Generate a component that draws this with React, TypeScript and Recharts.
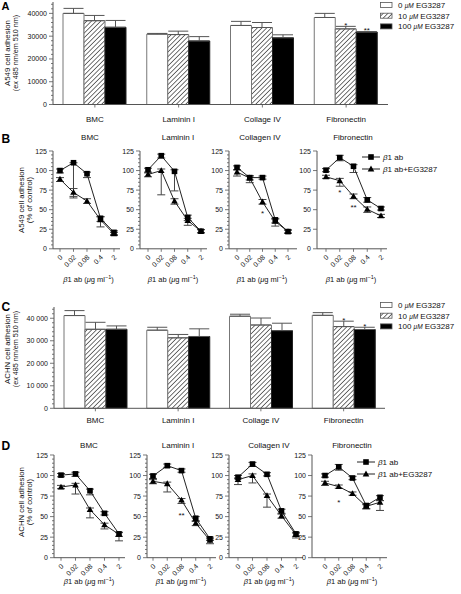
import React from 'react';
import { BarChart, Bar, XAxis, YAxis, ErrorBar, LabelList, Legend, LineChart, Line } from 'recharts';

const FONT = '"Liberation Sans", Arial, Helvetica, sans-serif';
const AX = '#555';
const TXT = '#111';

// ---------------- Panels A / C (bar charts) ----------------
const substratesAC = ['BMC', 'Laminin I', 'Collage IV', 'Fibronectin'];
const treatmentNames = ['0 μM EG3287', '10 μM EG3287', '100 μM EG3287'];

const a549_0 = [40000, 30900, 34700, 38200];
const a549_0_err = [2200, 300, 1800, 1800];
const a549_10 = [36800, 30700, 33800, 33200];
const a549_10_err = [2300, 1500, 2200, 1100];
const a549_100 = [33900, 27900, 29300, 31800];
const a549_100_err = [3000, 1900, 1300, 200];
const a549_10_sig = ['', '', '', '*'];
const a549_100_sig = ['', '', '', '**'];

const achn_0 = [41200, 34700, 40900, 41300];
const achn_0_err = [2200, 1300, 900, 1200];
const achn_10 = [35100, 31300, 37000, 36300];
const achn_10_err = [3100, 1500, 3100, 2400];
const achn_100 = [35100, 31900, 34500, 35000];
const achn_100_err = [1500, 3400, 3300, 1000];
const achn_10_sig = ['', '', '', '*'];
const achn_100_sig = ['', '', '', '*'];

const barTicks = [0, 2000, 4000, 6000, 8000, 10000, 12000, 14000, 16000, 18000, 20000, 22000, 24000, 26000, 28000, 30000, 32000, 34000, 36000, 38000, 40000, 42000, 44000];

// ---------------- Panels B / D (line charts) ----------------
const doses = ['0', '0.02', '0.08', '0.4', '2'];
const lineSeriesNames = ['β1 ab', 'β1 ab+EG3287'];
const lineTicksMinor = [0, 5, 10, 15, 20, 25, 30, 35, 40, 45, 50, 55, 60, 65, 70, 75, 80, 85, 90, 95, 100, 105, 110, 115, 120, 125];
const lineTicksMajor = [0, 25, 50, 75, 100, 125];

// B (A549)
const bBmcAb = [100, 110, 96, 39, 21];
const bBmcAbLo = [3, 45, 5, 4, 3];
const bBmcAbHi = [2, 0, 2, 2, 2];
const bBmcEg = [89, 72, 61, 37, 19];
const bBmcEgLo = [3, 5, 3, 9, 2];
const bBmcEgHi = [2, 5, 3, 4, 2];
const bBmcSig = ['', '', '', '', ''];

const bLamAb = [101, 119, 99, 40, 22.5];
const bLamAbLo = [3, 3, 25, 4, 2];
const bLamAbHi = [2, 2, 2, 3, 2];
const bLamEg = [95, 100, 61, 36, 22.5];
const bLamEgLo = [3, 31, 4, 6, 2];
const bLamEgHi = [2, 2, 3, 3, 2];
const bLamSig = ['', '', '', '', ''];

const bColAb = [104, 91, 91, 37, 22];
const bColAbLo = [3, 3, 2, 4, 2];
const bColAbHi = [2, 2, 2, 2, 2];
const bColEg = [98, 90.5, 60, 35, 22];
const bColEgLo = [5, 6, 3, 6, 2];
const bColEgHi = [3, 3, 3, 3, 2];
const bColSig = ['', '', '*', '', ''];

const bFibAb = [100.5, 116.5, 105.5, 62.5, 51.5];
const bFibAbLo = [2, 4, 8, 3, 2];
const bFibAbHi = [2, 3, 2, 3, 2];
const bFibEg = [92, 87, 67, 50.5, 42];
const bFibEgLo = [2, 7, 3, 4, 2];
const bFibEgHi = [2, 3, 3, 3, 2];
const bFibSig = ['', '*', '**', '', ''];

// D (ACHN)
const dBmcAb = [100.5, 102, 81.5, 54, 29];
const dBmcAbLo = [2, 3, 5, 2, 3];
const dBmcAbHi = [2, 2, 2, 2, 2];
const dBmcEg = [86, 88.5, 58.5, 40, 28.5];
const dBmcEgLo = [2, 11, 10, 5, 8];
const dBmcEgHi = [2, 2, 2, 2, 2];
const dBmcSig = ['', '', '', '', ''];

const dLamAb = [99.5, 112, 106, 48, 23];
const dLamAbLo = [3, 2, 2, 3, 2];
const dLamAbHi = [2, 2, 2, 2, 2];
const dLamEg = [93, 90, 70, 42, 21];
const dLamEgLo = [3, 10, 4, 3, 4];
const dLamEgHi = [2, 2, 2, 2, 2];
const dLamSig = ['', '', '**', '', ''];

const dColAb = [98, 114, 101.5, 57, 29];
const dColAbLo = [2, 3, 2, 3, 3];
const dColAbHi = [2, 2, 2, 2, 2];
const dColEg = [95, 100, 75.5, 51, 28];
const dColEgLo = [6, 9, 14, 3, 4];
const dColEgHi = [2, 2, 2, 2, 2];
const dColSig = ['', '', '', '', ''];

const dFibAb = [100, 110.5, 97, 63.5, 73.5];
const dFibAbLo = [2, 4, 2, 4, 4];
const dFibAbHi = [2, 3, 2, 2, 2];
const dFibEg = [91, 86.5, 78, 62.5, 67.5];
const dFibEgLo = [3, 2, 2, 3, 10];
const dFibEgHi = [2, 2, 2, 2, 2];
const dFibSig = ['', '*', '', '', ''];

// ---------------- helpers ----------------
const isMajorOf = (v: number, step: number) => Math.abs(v / step - Math.round(v / step)) < 1e-6;

const makeYTick = (step: number, fmt: (v: number) => string, fs: number) => (props: any) => {
  const { x, y, payload } = props;
  const v = Number(payload.value);
  const major = isMajorOf(v, step);
  return (
    <g>
      <line x1={x - (major ? 4 : 2)} x2={x} y1={y} y2={y} stroke={AX} strokeWidth={0.8} />
      {major && (
        <text x={x - 6} y={y + fs * 0.36} textAnchor="end" fontSize={fs} fill={TXT} fontFamily={FONT}>
          {fmt(v)}
        </text>
      )}
    </g>
  );
};

const makeBarXTick = (dy: number) => (props: any) => {
  const { x, y, payload } = props;
  return (
    <g>
      <line x1={x} x2={x} y1={y} y2={y + 3} stroke={AX} strokeWidth={0.8} />
      <text x={x} y={y + dy} textAnchor="middle" fontSize={8} fill={TXT} fontFamily={FONT}>
        {payload.value}
      </text>
    </g>
  );
};

const lineXTick = (props: any) => {
  const { x, y, payload } = props;
  const tx = x + 3;
  const ty = y + 9;
  return (
    <g>
      <line x1={x} x2={x} y1={y} y2={y + 3} stroke={AX} strokeWidth={0.8} />
      <text x={tx} y={ty} textAnchor="end" fontSize={7} fill={TXT} fontFamily={FONT} transform={`rotate(-45 ${tx} ${ty})`}>
        {payload.value}
      </text>
    </g>
  );
};

const Hatch = ({ id }: { id: string }) => (
  <pattern id={id} width={3.3} height={3.3} patternUnits="userSpaceOnUse" patternTransform="rotate(45)">
    <rect width={3.3} height={3.3} fill="#fff" />
    <line x1={0} y1={0} x2={0} y2={3.3} stroke="#000" strokeWidth={1.1} />
  </pattern>
);

const starBarLabel = (errs: number[], ppu: number) => (p: any) => {
  const vb = p.viewBox || p;
  const x = Number(vb.x ?? p.x);
  const y = Number(vb.y ?? p.y);
  const w = Number(vb.width ?? p.width ?? 0);
  const idx = Number(p.index ?? 0);
  if (!p.value) return null;
  const cap = y - (errs[idx] || 0) * ppu;
  return (
    <text x={x + w / 2} y={cap + 1.5} textAnchor="middle" fontSize={8} fill={TXT} fontFamily={FONT}>
      {p.value}
    </text>
  );
};

const starLineLabel = (dy: number) => (p: any) => {
  const vb = p.viewBox || p;
  const x = Number(vb.x ?? p.x);
  const y = Number(vb.y ?? p.y);
  if (!p.value) return null;
  return (
    <text x={x} y={y + dy} textAnchor="middle" fontSize={8} fill={TXT} fontFamily={FONT}>
      {p.value}
    </text>
  );
};

const BarLegendBox = ({ pid }: { pid: string }) => (
  <svg width={80} height={32} style={{ display: 'block', overflow: 'visible' }}>
    <defs>
      <Hatch id={pid} />
    </defs>
    {treatmentNames.map((nm, i) => {
      const y = i * 10.7;
      const fill = i === 0 ? '#fff' : i === 1 ? `url(#${pid})` : '#000';
      const parts = nm.split('μM');
      return (
        <g key={nm}>
          <rect x={0.5} y={y + 0.5} width={11.5} height={5} fill={fill} stroke="#555" strokeWidth={0.8} />
          <text x={18} y={y + 6} fontSize={8} fontFamily={FONT} fill={TXT}>
            {parts[0]}
            <tspan fontStyle="italic" fontSize={6.5}>μM</tspan>
            {parts[1]}
          </text>
        </g>
      );
    })}
  </svg>
);

const LineLegendBox = () => (
  <svg width={90} height={24} style={{ display: 'block', overflow: 'visible' }}>
    {lineSeriesNames.map((nm, i) => {
      const y = 4 + i * 12;
      return (
        <g key={nm}>
          <line x1={0} x2={18} y1={y} y2={y} stroke="#222" strokeWidth={1} />
          {i === 0 ? (
            <rect x={9 - 2.8} y={y - 2.8} width={5.6} height={5.6} fill="#000" />
          ) : (
            <polygon points={`9,${y - 3.4} ${12.3},${y + 2.4} ${5.7},${y + 2.4}`} fill="#000" />
          )}
          <text x={21} y={y + 2.9} fontSize={8} fontFamily={FONT} fill={TXT}>
            <tspan fontStyle="italic">{nm.slice(0, 1)}</tspan>
            {nm.slice(1)}
          </text>
        </g>
      );
    })}
  </svg>
);

const SquareDot = (p: any) => {
  const { cx, cy } = p;
  if (cx == null || cy == null) return <g />;
  return <rect x={cx - 2.8} y={cy - 2.8} width={5.6} height={5.6} fill="#000" />;
};
const TriDot = (p: any) => {
  const { cx, cy } = p;
  if (cx == null || cy == null) return <g />;
  return <polygon points={`${cx},${cy - 3.4} ${cx + 3.3},${cy + 2.4} ${cx - 3.3},${cy + 2.4}`} fill="#000" />;
};

// ---------------- Bar panel ----------------
type BP = {
  top: number; height: number; axisX: number; right: number; plotTop: number; plotBottom: number;
  v0: number[]; e0: number[]; v10: number[]; e10: number[]; v100: number[]; e100: number[];
  s10: string[]; s100: string[]; fmt: (v: number) => string; labelDy: number; pid: string; legendTop: number;
};

function BarPanel(p: BP) {
  const data = substratesAC.map((name, i) => ({
    name,
    v0: p.v0[i], e0: [0, p.e0[i]],
    v10: p.v10[i], e10: [0, p.e10[i]],
    v100: p.v100[i], e100: [0, p.e100[i]],
    s10: p.s10[i], s100: p.s100[i],
  }));
  const W = 461;
  const mt = p.plotTop - p.top;
  const xh = p.top + p.height - p.plotBottom;
  const ppu = (p.plotBottom - p.plotTop) / 45000;
  return (
    <div style={{ position: 'absolute', left: 0, top: p.top, width: W, height: p.height }}>
      <BarChart width={W} height={p.height} data={data} margin={{ top: mt, left: 0, right: W - p.right, bottom: 0 }} barGap={0} barSize={21}>
        <defs>
          <Hatch id={p.pid} />
        </defs>
        <XAxis dataKey="name" height={xh} stroke={AX} tickLine={false} tickSize={0} tickMargin={0} interval={0} tick={makeBarXTick(p.labelDy)} />
        <YAxis type="number" domain={[0, 45000]} ticks={barTicks} interval={0} width={p.axisX} stroke={AX} tickLine={false} tickSize={0} tickMargin={0} tick={makeYTick(10000, p.fmt, 7)} />
        <Legend layout="vertical" align="center" verticalAlign="middle" wrapperStyle={{ position: 'absolute', left: 380, top: p.legendTop, width: 80, height: 32 }} content={() => <BarLegendBox pid={p.pid + 'L'} />} />
        <Bar dataKey="v0" name={treatmentNames[0]} fill="#fff" stroke="#777" strokeWidth={1} isAnimationActive={false}>
          <ErrorBar dataKey="e0" width={10} stroke="#555" strokeWidth={1} direction="y" />
        </Bar>
        <Bar dataKey="v10" name={treatmentNames[1]} fill={`url(#${p.pid})`} stroke="#777" strokeWidth={1} isAnimationActive={false}>
          <ErrorBar dataKey="e10" width={10} stroke="#555" strokeWidth={1} direction="y" />
          <LabelList dataKey="s10" content={starBarLabel(p.e10, ppu)} />
        </Bar>
        <Bar dataKey="v100" name={treatmentNames[2]} fill="#000" stroke="#222" strokeWidth={1} isAnimationActive={false}>
          <ErrorBar dataKey="e100" width={10} stroke="#555" strokeWidth={1} direction="y" />
          <LabelList dataKey="s100" content={starBarLabel(p.e100, ppu)} />
        </Bar>
      </BarChart>
    </div>
  );
}

// ---------------- Line panel ----------------
type LP = {
  axisX: number; x0: number; x1: number; xEnd: number; yTop: number; yBottom: number;
  ab: number[]; abLo: number[]; abHi: number[]; eg: number[]; egLo: number[]; egHi: number[];
  sig: string[]; minor: boolean; legend?: { x: number; y: number }; starDy: number;
};

function LinePanel(p: LP) {
  const data = doses.map((d, i) => ({
    dose: d,
    ab: p.ab[i], abE: [p.abLo[i], p.abHi[i]],
    eg: p.eg[i], egE: [p.egLo[i], p.egHi[i]],
    sig: p.sig[i],
  }));
  const YW = 40, MT = 6, XH = 30;
  const left = p.axisX - YW;
  const top = p.yTop - MT;
  const width = p.legend ? 461 - left : (p.xEnd - p.axisX) + YW + 2;
  const height = (p.yBottom - p.yTop) + MT + XH;
  const mr = width - YW - (p.xEnd - p.axisX);
  return (
    <div style={{ position: 'absolute', left, top, width, height }}>
      <LineChart width={width} height={height} data={data} margin={{ top: MT, left: 0, right: mr, bottom: 0 }}>
        <XAxis dataKey="dose" type="category" padding={{ left: p.x0 - p.axisX, right: p.xEnd - p.x1 }} height={XH} stroke={AX} tickLine={false} tickSize={0} tickMargin={0} interval={0} tick={lineXTick} />
        <YAxis type="number" domain={[0, 125]} ticks={p.minor ? lineTicksMinor : lineTicksMajor} interval={0} width={YW} stroke={AX} tickLine={false} tickSize={0} tickMargin={0} tick={makeYTick(25, (v) => String(v), 7)} />
        {p.legend && (
          <Legend layout="vertical" align="center" verticalAlign="middle" wrapperStyle={{ position: 'absolute', left: p.legend.x - left, top: p.legend.y - top, width: 90, height: 24 }} content={() => <LineLegendBox />} />
        )}
        <Line dataKey="eg" name={lineSeriesNames[1]} stroke="#222" strokeWidth={1} dot={TriDot} activeDot={false} isAnimationActive={false}>
          <ErrorBar dataKey="egE" width={4} stroke="#444" strokeWidth={1} direction="y" />
          <LabelList dataKey="sig" content={starLineLabel(p.starDy)} />
        </Line>
        <Line dataKey="ab" name={lineSeriesNames[0]} stroke="#222" strokeWidth={1} dot={SquareDot} activeDot={false} isAnimationActive={false}>
          <ErrorBar dataKey="abE" width={4} stroke="#444" strokeWidth={1} direction="y" />
        </Line>
      </LineChart>
    </div>
  );
}

// ---------------- overlay texts ----------------
const XTitle = ({ x, y }: { x: number; y: number }) => (
  <text x={x} y={y} textAnchor="middle" fontSize={7.5} fill={TXT} fontFamily={FONT}>
    <tspan fontStyle="italic">β</tspan>1 ab (<tspan fontStyle="italic">μ</tspan>g ml<tspan dy={-3} fontSize={5.5}>−1</tspan>
    <tspan dy={3}>)</tspan>
  </text>
);

const YTitle = ({ x1, x2, y, l1, l2, fs2 }: { x1: number; x2: number; y: number; l1: string; l2: string; fs2: number }) => (
  <g>
    <text transform={`translate(${x1},${y}) rotate(-90)`} textAnchor="middle" fontSize={7.8} fill={TXT} fontFamily={FONT}>{l1}</text>
    <text transform={`translate(${x2},${y}) rotate(-90)`} textAnchor="middle" fontSize={fs2} fill={TXT} fontFamily={FONT}>{l2}</text>
  </g>
);

const titlesB = [
  { t: 'BMC', x: 90 }, { t: 'Laminin I', x: 178 }, { t: 'Collagen IV', x: 260 }, { t: 'Fibronectin', x: 353 },
];
const titlesD = [
  { t: 'BMC', x: 89 }, { t: 'Laminin I', x: 178 }, { t: 'Collagen IV', x: 269 }, { t: 'Fibronectin', x: 352 },
];

export default function App() {
  return (
    <div style={{ position: 'absolute', left: 0, top: 0, width: 461, height: 594, background: '#fff', fontFamily: FONT, overflow: 'hidden' }}>
      <BarPanel top={0} height={130} axisX={53} right={388} plotTop={2} plotBottom={104.5}
        v0={a549_0} e0={a549_0_err} v10={a549_10} e10={a549_10_err} v100={a549_100} e100={a549_100_err}
        s10={a549_10_sig} s100={a549_100_sig} fmt={(v) => String(v)} labelDy={17.5} pid="hatchA" legendTop={1.5} />

      <BarPanel top={295} height={135} axisX={54} right={385} plotTop={307} plotBottom={408.3}
        v0={achn_0} e0={achn_0_err} v10={achn_10} e10={achn_10_err} v100={achn_100} e100={achn_100_err}
        s10={achn_10_sig} s100={achn_100_sig} fmt={(v) => (v === 0 ? '0' : `${v / 1000} 000`)} labelDy={14.8} pid="hatchC" legendTop={6.5} />

      <LinePanel axisX={53} x0={60} x1={114} xEnd={120} yTop={150.5} yBottom={248.3}
        ab={bBmcAb} abLo={bBmcAbLo} abHi={bBmcAbHi} eg={bBmcEg} egLo={bBmcEgLo} egHi={bBmcEgHi} sig={bBmcSig} minor starDy={14} />
      <LinePanel axisX={140} x0={148} x1={201} xEnd={207} yTop={150.5} yBottom={248.3}
        ab={bLamAb} abLo={bLamAbLo} abHi={bLamAbHi} eg={bLamEg} egLo={bLamEgLo} egHi={bLamEgHi} sig={bLamSig} minor starDy={14} />
      <LinePanel axisX={229} x0={237} x1={288} xEnd={297} yTop={150.5} yBottom={248.3}
        ab={bColAb} abLo={bColAbLo} abHi={bColAbHi} eg={bColEg} egLo={bColEgLo} egHi={bColEgHi} sig={bColSig} minor starDy={14} />
      <LinePanel axisX={317} x0={326} x1={381} xEnd={387} yTop={150.5} yBottom={248.3}
        ab={bFibAb} abLo={bFibAbLo} abHi={bFibAbHi} eg={bFibEg} egLo={bFibEgLo} egHi={bFibEgHi} sig={bFibSig} minor={false} starDy={14}
        legend={{ x: 362, y: 153 }} />

      <LinePanel axisX={54} x0={61} x1={119} xEnd={125} yTop={455} yBottom={557.7}
        ab={dBmcAb} abLo={dBmcAbLo} abHi={dBmcAbHi} eg={dBmcEg} egLo={dBmcEgLo} egHi={dBmcEgHi} sig={dBmcSig} minor starDy={18} />
      <LinePanel axisX={147} x0={153} x1={210} xEnd={216} yTop={455} yBottom={557.7}
        ab={dLamAb} abLo={dLamAbLo} abHi={dLamAbHi} eg={dLamEg} egLo={dLamEgLo} egHi={dLamEgHi} sig={dLamSig} minor starDy={18} />
      <LinePanel axisX={229} x0={238} x1={296} xEnd={303} yTop={455} yBottom={557.7}
        ab={dColAb} abLo={dColAbLo} abHi={dColAbHi} eg={dColEg} egLo={dColEgLo} egHi={dColEgHi} sig={dColSig} minor starDy={18} />
      <LinePanel axisX={312} x0={325} x1={380} xEnd={387} yTop={455} yBottom={557.7}
        ab={dFibAb} abLo={dFibAbLo} abHi={dFibAbHi} eg={dFibEg} egLo={dFibEgLo} egHi={dFibEgHi} sig={dFibSig} minor={false} starDy={18}
        legend={{ x: 357, y: 458 }} />

      <svg width={461} height={594} style={{ position: 'absolute', left: 0, top: 0, pointerEvents: 'none' }}>
        <text x={1.5} y={10} fontSize={11} fontWeight="bold" fill="#000" fontFamily={FONT}>A</text>
        <text x={1.5} y={143} fontSize={12} fontWeight="bold" fill="#000" fontFamily={FONT}>B</text>
        <text x={1.5} y={311} fontSize={12} fontWeight="bold" fill="#000" fontFamily={FONT}>C</text>
        <text x={1.5} y={450} fontSize={12} fontWeight="bold" fill="#000" fontFamily={FONT}>D</text>

        <YTitle x1={9.6} x2={18} y={53} l1="A549 cell adhesion" l2="(ex 485 nm/em 510 nm)" fs2={7.2} />
        <YTitle x1={9.6} x2={18} y={349} l1="ACHN cell adhesion" l2="(ex 485 nm/em 510 nm)" fs2={7.2} />
        <YTitle x1={23.5} x2={32} y={200} l1="A549 cell adhesion" l2="(% of control)" fs2={7.8} />
        <YTitle x1={23.5} x2={32} y={502} l1="ACHN cell adhesion" l2="(% of control)" fs2={7.8} />

        {titlesB.map((t) => (
          <text key={'b' + t.t} x={t.x} y={140} textAnchor="middle" fontSize={8} fill={TXT} fontFamily={FONT}>{t.t}</text>
        ))}
        {titlesD.map((t) => (
          <text key={'d' + t.t} x={t.x} y={447.5} textAnchor="middle" fontSize={8} fill={TXT} fontFamily={FONT}>{t.t}</text>
        ))}

        <XTitle x={88.5} y={281.5} />
        <XTitle x={173} y={281.5} />
        <XTitle x={262} y={281.5} />
        <XTitle x={351} y={281.5} />
        <XTitle x={89} y={583.5} />
        <XTitle x={181} y={583.5} />
        <XTitle x={269} y={583.5} />
        <XTitle x={352} y={583.5} />
      </svg>
    </div>
  );
}
